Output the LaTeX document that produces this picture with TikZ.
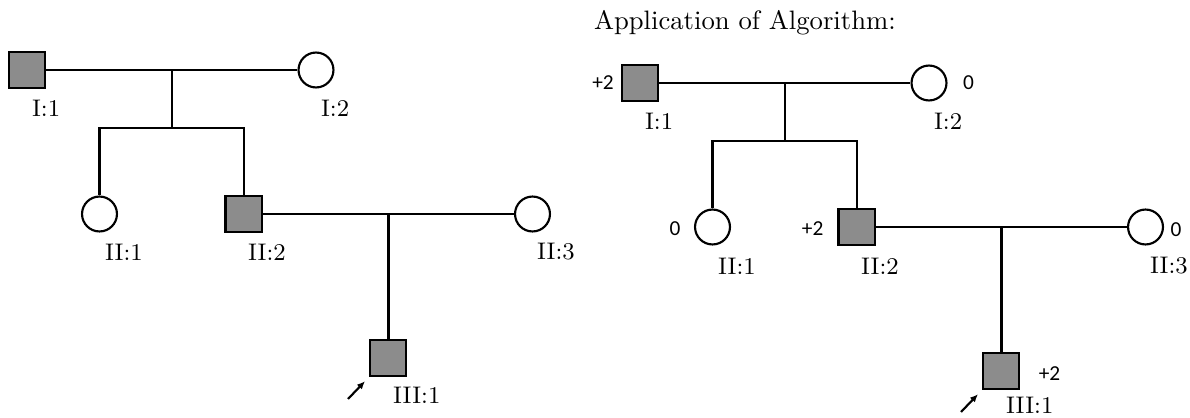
\documentclass[tikz,border=0pt]{standalone}
\usepackage{fontspec}
\newfontfamily\scorefont{Carlito}
\usetikzlibrary{arrows.meta}

\tikzset{
  male/.style={rectangle, draw, fill=black!45, minimum size=13.7pt, inner sep=0pt},
  female/.style={circle, draw, fill=white, minimum size=13.1pt, inner sep=0pt},
  tag/.style={anchor=west, inner sep=0pt, font=\small},
  score/.style={inner sep=0pt, font=\scorefont\footnotesize},
  pointer/.style={-{Latex[length=3pt,width=2.6pt]}, shorten >=2pt},
}

\begin{document}
\begin{tikzpicture}[x=0.375pt, y=-0.375pt, line width=0.8pt]
  \useasboundingbox (0,0) rectangle (1190,417);

  % plain pedigree
  \begin{scope}
    \node[male]   (L1) at (27,70)    {};
    \node[female] (L2) at (316,70)   {};
    \node[female] (L3) at (99.5,214) {};
    \node[male]   (L4) at (243.7,214) {};
    \node[female] (L5) at (532.5,214) {};
    \node[male]   (L6) at (388,358)  {};

    \node[tag] (Lt1) at (31,108)  {I:1};
    \node[tag] (Lt2) at (320,108) {I:2};
    \node[tag] (Lt3) at (104,252) {II:1};
    \node[tag] (Lt4) at (247,252) {II:2};
    \node[tag] (Lt5) at (536,252) {II:3};
    \node[tag] (Lt6) at (392,395) {III:1};

    \coordinate (Ls1) at (171.7,128);
    \coordinate (La) at (348,399);

    \draw (L1) -- coordinate (Lm1) (L2);
    \draw (Lm1) -- (Lm1 |- Ls1);
    \draw (L3) |- (Ls1) -| (L4);
    \draw (L4) -- coordinate (Lm2) (L5);
    \draw (Lm2) -- (Lm2 |- L6.north);
    \draw[pointer] (La) -- (L6.south west);
  \end{scope}

  \node[anchor=west, inner sep=0pt] (title) at (593,23) {Application of Algorithm:};

  % same pedigree, with scores
  \begin{scope}[shift={(613,13)}]
    \node[male]   (R1) at (27,70)    {};
    \node[female] (R2) at (316,70)   {};
    \node[female] (R3) at (99.5,214) {};
    \node[male]   (R4) at (243.7,214) {};
    \node[female] (R5) at (532.5,214) {};
    \node[male]   (R6) at (388,358)  {};

    \node[tag] (Rt1) at (31,108)  {I:1};
    \node[tag] (Rt2) at (320,108) {I:2};
    \node[tag] (Rt3) at (104,253) {II:1};
    \node[tag] (Rt4) at (247,253) {II:2};
    \node[tag] (Rt5) at (536,253) {II:3};
    \node[tag] (Rt6) at (392,392) {III:1};

    \node[score] (Rs1) at (-10,70)    {+2};
    \node[score] (Rs2) at (355.5,70)  {0};
    \node[score] (Rs3) at (62,216)    {0};
    \node[score] (Rs4) at (199.7,216) {+2};
    \node[score] (Rs5) at (563,217)   {0};
    \node[score] (Rs6) at (436.5,361) {+2};

    \coordinate (Rs) at (171.7,128);
    \coordinate (Ra) at (348,399);

    \draw (R1) -- coordinate (Rm1) (R2);
    \draw (Rm1) -- (Rm1 |- Rs);
    \draw (R3) |- (Rs) -| (R4);
    \draw (R4) -- coordinate (Rm2) (R5);
    \draw (Rm2) -- (Rm2 |- R6.north);
    \draw[pointer] (Ra) -- (R6.south west);
  \end{scope}

\end{tikzpicture}
\end{document}
